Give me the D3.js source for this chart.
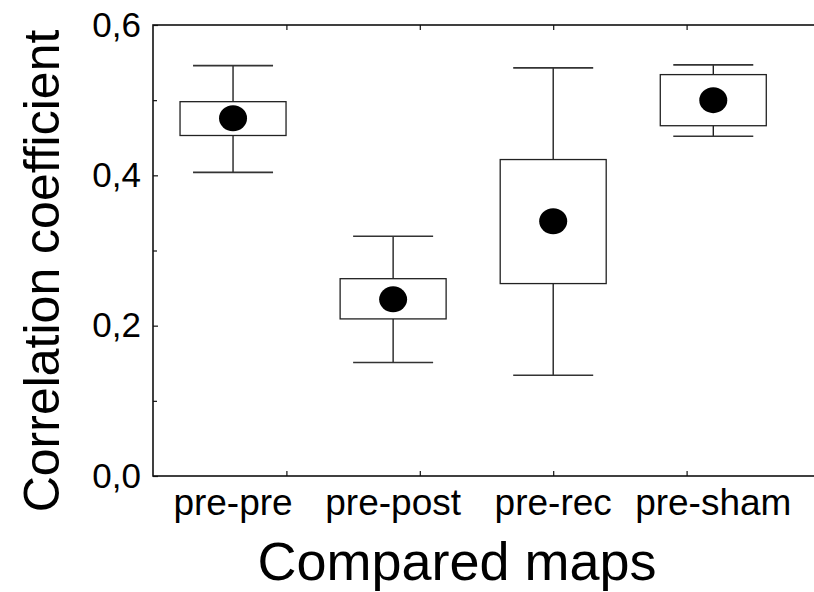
<!DOCTYPE html>
<html>
<head>
<meta charset="utf-8">
<script src="https://cdn.jsdelivr.net/npm/d3@7"></script>
<style>
  html, body { margin: 0; padding: 0; background: #fff; }
  svg { display: block; font-family: "Liberation Sans", Arial, Helvetica, sans-serif; }
</style>
</head>
<body>
<svg id="chart" width="814" height="592"></svg>
<script>
// ---- data ----
const categories  = ["pre-pre", "pre-post", "pre-rec", "pre-sham"];
const whiskerHigh = [0.546, 0.319, 0.543, 0.547];
const boxHigh     = [0.498, 0.2625, 0.421, 0.534];
const centers     = [0.476, 0.235, 0.339, 0.500];
const boxLow      = [0.453, 0.209, 0.256, 0.466];
const whiskerLow  = [0.404, 0.151, 0.134, 0.452];
const yTickValues = [0.0, 0.2, 0.4, 0.6];
const yMinorTicks = [0.1, 0.3, 0.5];
const xTickValues = [1, 2, 3, 4];
const yTitle = "Correlation coefficient";
const xTitle = "Compared maps";

(function () {
const rows = categories.map((c, i) => ({
  cat: c, wHi: whiskerHigh[i], bHi: boxHigh[i], mid: centers[i], bLo: boxLow[i], wLo: whiskerLow[i]
}));

// ---- layout ----
const svg = d3.select("#chart");
const pLeft = 153, pTop = 25, pBottom = 476, pRight = 820;

const y = d3.scaleLinear().domain([0, 0.6]).range([pBottom, pTop]);
const xCont = d3.scaleLinear().domain([0, 5]).range([pLeft, pRight]);
const x = d3.scalePoint().domain(categories).range([xCont(0.6), xCont(4.2)]);

const fmt = d => d3.format(".1f")(d).replace(".", ",");

// frame
svg.append("rect")
  .attr("x", pLeft).attr("y", pTop)
  .attr("width", pRight - pLeft).attr("height", pBottom - pTop)
  .attr("fill", "none").attr("stroke", "#111").attr("stroke-width", 1.6);

// y axis ticks (inward) and labels
const yAxis = d3.axisLeft(y).tickValues(yTickValues).tickSize(-5).tickPadding(12).tickFormat(fmt);
const gy = svg.append("g").attr("transform", `translate(${pLeft},0)`).call(yAxis);
gy.select(".domain").remove();
gy.selectAll(".tick line").attr("stroke", "#111").attr("stroke-width", 1.2);
gy.selectAll(".tick text").attr("font-size", 35).attr("fill", "#000")
  .attr("font-family", "Liberation Sans, Arial, sans-serif");

const yMinor = d3.axisLeft(y).tickValues(yMinorTicks).tickSize(-4).tickFormat("");
const gym = svg.append("g").attr("transform", `translate(${pLeft},0)`).call(yMinor);
gym.select(".domain").remove();
gym.selectAll(".tick line").attr("stroke", "#111").attr("stroke-width", 1.2);

// x ticks bottom and top (inward, unlabeled)
const xb = svg.append("g").attr("transform", `translate(0,${pBottom})`)
  .call(d3.axisBottom(xCont).tickValues(xTickValues).tickSize(-5).tickFormat(""));
xb.select(".domain").remove();
xb.selectAll(".tick line").attr("stroke", "#111").attr("stroke-width", 1.2);
const xt = svg.append("g").attr("transform", `translate(0,${pTop})`)
  .call(d3.axisTop(xCont).tickValues(xTickValues).tickSize(-5).tickFormat(""));
xt.select(".domain").remove();
xt.selectAll(".tick line").attr("stroke", "#111").attr("stroke-width", 1.2);

// category labels
svg.append("g").selectAll("text").data(categories).join("text")
  .attr("x", d => x(d)).attr("y", 515)
  .attr("text-anchor", "middle").attr("font-size", 37).attr("fill", "#000")
  .text(d => d);

// boxes
const boxW = 106, capW = 80;
const g = svg.append("g");
const grp = g.selectAll("g.box").data(rows).join("g").attr("class", "box");

grp.append("line")
  .attr("x1", d => x(d.cat)).attr("x2", d => x(d.cat))
  .attr("y1", d => y(d.wHi)).attr("y2", d => y(d.bHi))
  .attr("stroke", "#111").attr("stroke-width", 1.3);
grp.append("line")
  .attr("x1", d => x(d.cat)).attr("x2", d => x(d.cat))
  .attr("y1", d => y(d.bLo)).attr("y2", d => y(d.wLo))
  .attr("stroke", "#111").attr("stroke-width", 1.3);
grp.append("line")
  .attr("x1", d => x(d.cat) - capW / 2).attr("x2", d => x(d.cat) + capW / 2)
  .attr("y1", d => y(d.wHi)).attr("y2", d => y(d.wHi))
  .attr("stroke", "#333").attr("stroke-width", 1.6);
grp.append("line")
  .attr("x1", d => x(d.cat) - capW / 2).attr("x2", d => x(d.cat) + capW / 2)
  .attr("y1", d => y(d.wLo)).attr("y2", d => y(d.wLo))
  .attr("stroke", "#333").attr("stroke-width", 1.6);
grp.append("rect")
  .attr("x", d => x(d.cat) - boxW / 2).attr("width", boxW)
  .attr("y", d => y(d.bHi)).attr("height", d => y(d.bLo) - y(d.bHi))
  .attr("fill", "#fff").attr("stroke", "#222").attr("stroke-width", 1.3);
grp.append("ellipse")
  .attr("cx", d => x(d.cat)).attr("cy", d => y(d.mid))
  .attr("rx", 14).attr("ry", 13).attr("fill", "#000");

// titles
svg.append("text")
  .attr("transform", `translate(59,271) rotate(-90)`)
  .attr("text-anchor", "middle").attr("font-size", 50).attr("fill", "#000")
  .text(yTitle);
svg.append("text")
  .attr("x", 457).attr("y", 580)
  .attr("text-anchor", "middle").attr("font-size", 54).attr("fill", "#000")
  .text(xTitle);
})();
</script>
</body>
</html>
